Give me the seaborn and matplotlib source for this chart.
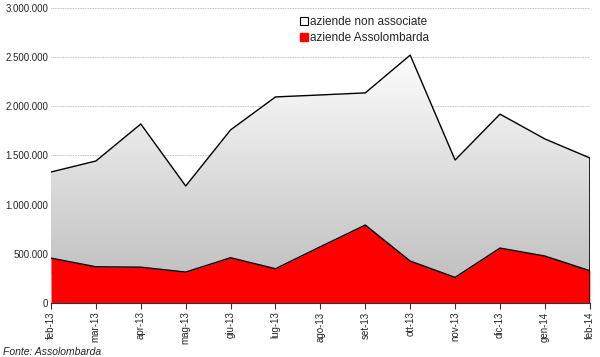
import numpy as np
import pandas as pd
import matplotlib
matplotlib.use("Agg")
import matplotlib.pyplot as plt
import seaborn as sns
from matplotlib.ticker import FuncFormatter

months = ["feb-13", "mar-13", "apr-13", "mag-13", "giu-13", "lug-13", "ago-13",
          "set-13", "ott-13", "nov-13", "dic-13", "gen-14", "feb-14"]
assolombarda = [457000, 369000, 365000, 315000, 461000, 349000, 573000,
                793000, 427000, 261000, 559000, 478000, 329000]
non_associate = [875000, 1075000, 1455000, 875000, 1299000, 1746000, 1542000,
                 1343000, 2093000, 1193000, 1361000, 1190000, 1146000]

df = pd.DataFrame({"mese": months, "assolombarda": assolombarda,
                   "non_associate": non_associate})
df["x"] = range(len(df))
df["totale"] = df["assolombarda"] + df["non_associate"]

sns.set_theme(style="white")
plt.rcParams["font.family"] = ["Liberation Sans", "DejaVu Sans"]

fig = plt.figure(figsize=(6, 3.57), dpi=100)
ax = fig.add_axes([0.085, 0.151, 0.898, 0.827])

# grey area with vertical gradient (white on top, grey at the bottom)
top = ax.fill_between(df["x"], df["assolombarda"], df["totale"],
                      facecolor="none", edgecolor="none")
grad = np.linspace(0, 1, 256).reshape(-1, 1)
cmap = matplotlib.colors.LinearSegmentedColormap.from_list("g", ["#c2c2c2", "#ffffff"])
img = ax.imshow(grad, cmap=cmap, aspect="auto",
                extent=[0, len(df) - 1, 300000, 2600000], origin="lower", zorder=1)
img.set_clip_path(top.get_paths()[0], transform=ax.transData)
ax.fill_between(df["x"], df["assolombarda"], 300000, color="#c2c2c2", zorder=0.9,
                linewidth=0)

ax.fill_between(df["x"], 0, df["assolombarda"], color="#ff0000", zorder=2,
                linewidth=0)
sns.lineplot(data=df, x="x", y="totale", color="black", linewidth=1, ax=ax, zorder=3)
sns.lineplot(data=df, x="x", y="assolombarda", color="black", linewidth=1, ax=ax, zorder=3)
ax.plot([len(df) - 1, len(df) - 1], [0, df["totale"].iloc[-1]], color="black",
        linewidth=1.2, zorder=3)

ax.set_xlim(0, len(df) - 1)
ax.set_ylim(0, 3000000)
ax.set_yticks(range(0, 3000001, 500000))
ax.yaxis.set_major_formatter(FuncFormatter(lambda v, p: f"{int(v):,}".replace(",", ".")))
ax.set_xticks(df["x"])
ax.set_xticklabels(months, rotation=90)
ax.tick_params(axis="x", length=4, width=0.8, color="#333333", labelsize=7,
               pad=2, bottom=True)
ax.tick_params(axis="y", length=0, labelsize=7, pad=2)
ax.grid(axis="y", color="#aaaaaa", linestyle=(0, (1, 1)), linewidth=0.6, zorder=0)
ax.set_axisbelow(True)
for s in ["top", "right", "left"]:
    ax.spines[s].set_visible(False)
ax.spines["bottom"].set_color("#333333")
ax.spines["bottom"].set_linewidth(0.8)
ax.set_xlabel("")
ax.set_ylabel("")

h1 = plt.Line2D([], [], marker="s", linestyle="", markerfacecolor="white",
                markeredgecolor="black", markersize=6, markeredgewidth=0.8)
h2 = plt.Line2D([], [], marker="s", linestyle="", markerfacecolor="#ff0000",
                markeredgecolor="#ff0000", markersize=6)
ax.legend([h1, h2], ["aziende non associate", "aziende Assolombarda"],
          loc="upper left", bbox_to_anchor=(0.448, 1.0), frameon=False,
          fontsize=8.5, handlelength=0.6, handletextpad=0.2, labelspacing=0.35,
          borderpad=0.2)

fig.text(0.005, 0.006, "Fonte: Assolombarda", fontsize=7.5, style="italic")

fig.savefig("out.png", dpi=100)
